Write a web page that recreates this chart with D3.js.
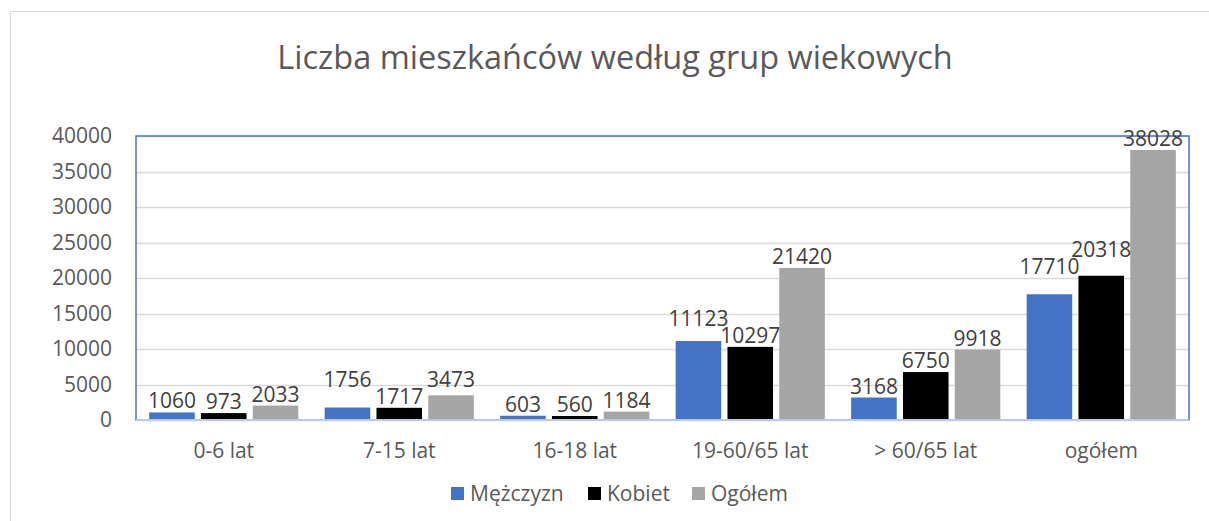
<!DOCTYPE html>
<html>
<head>
<meta charset="utf-8">
<script src="https://cdn.jsdelivr.net/npm/d3@7"></script>
<style>
  body { margin: 0; background: #fff; }
  svg text { font-family: "Open Sans", sans-serif; }
</style>
</head>
<body>
<script>
// data
var categories = ["0-6 lat", "7-15 lat", "16-18 lat", "19-60/65 lat", "> 60/65 lat", "ogółem"];
var seriesNames = ["Mężczyzn", "Kobiet", "Ogółem"];
var men = [1060, 1756, 603, 11123, 3168, 17710];
var women = [973, 1717, 560, 10297, 6750, 20318];
var total = [2033, 3473, 1184, 21420, 9918, 38028];
var yTicks = [0, 5000, 10000, 15000, 20000, 25000, 30000, 35000, 40000];
var colors = ["#4472C4", "#000000", "#A5A5A5"];

var width = 1209, height = 521;
var plot = {left: 136, right: 1189, top: 136, bottom: 420};
var fs = 21;

var svg = d3.select("body").append("svg")
	.attr("width", width)
	.attr("height", height);

svg.append("rect").attr("width", width).attr("height", height).attr("fill", "#fff");

// outer chart frame
svg.append("rect")
	.attr("x", 10.5).attr("y", 11.5)
	.attr("width", 1400).attr("height", 800)
	.attr("fill", "none").attr("stroke", "#D9D9D9");

// title
svg.append("text")
	.attr("x", 615).attr("y", 69)
	.attr("text-anchor", "middle")
	.attr("font-size", 32.5)
	.attr("fill", "#595959")
	.text("Liczba mieszkańców według grup wiekowych");

var x0 = d3.scaleBand().domain(categories).range([plot.left, plot.right])
	.paddingInner(0.15).paddingOuter(0.075);
var x1 = d3.scaleBand().domain(d3.range(seriesNames.length)).range([0, x0.bandwidth()])
	.paddingInner(0.12);
var y = d3.scaleLinear().domain([0, 40000]).range([plot.bottom, plot.top]);

// gridlines
svg.append("g").selectAll("line").data(yTicks).join("line")
	.attr("x1", plot.left).attr("x2", plot.right)
	.attr("y1", function(d) { return Math.round(y(d)) + 0.5; })
	.attr("y2", function(d) { return Math.round(y(d)) + 0.5; })
	.attr("stroke", "#D9D9D9").attr("stroke-width", 1.5);

// y axis labels
var yAxis = d3.axisLeft(y).tickValues(yTicks).tickSize(0).tickPadding(0).tickFormat(d3.format("d"));
var yg = svg.append("g").attr("transform", "translate(112,0)").call(yAxis);
yg.select(".domain").remove();
yg.selectAll("text").attr("font-size", fs).attr("fill", "#595959")
	.attr("font-family", "Open Sans, sans-serif");

// bars
var series = [men, women, total];
var barData = [];
categories.forEach(function(c, i) {
	series.forEach(function(s, j) {
		barData.push({cat: c, s: j, v: s[i]});
	});
});

svg.append("g").selectAll("rect").data(barData).join("rect")
	.attr("x", function(d) { return x0(d.cat) + x1(d.s); })
	.attr("y", function(d) { return y(d.v); })
	.attr("width", x1.bandwidth())
	.attr("height", function(d) { return y(0) - y(d.v); })
	.attr("fill", function(d) { return colors[d.s]; });

// plot area border
svg.append("rect")
	.attr("x", plot.left).attr("y", plot.top)
	.attr("width", plot.right - plot.left).attr("height", plot.bottom - plot.top)
	.attr("fill", "none").attr("stroke", "#4472C4").attr("stroke-width", 1.5);
svg.append("line")
	.attr("x1", plot.left).attr("x2", plot.right)
	.attr("y1", plot.bottom).attr("y2", plot.bottom)
	.attr("stroke", "#BCC9E2").attr("stroke-width", 2);

// data labels; small nudges so labels clear the next bar and each other
var labelG = svg.append("g");
categories.forEach(function(c) {
	var labels = barData.filter(function(d) { return d.cat === c; }).map(function(d) {
		var bx = x0(d.cat) + x1(d.s);
		var cx = bx + x1.bandwidth() / 2;
		var t = labelG.append("text")
			.attr("x", cx)
			.attr("text-anchor", "middle")
			.attr("font-size", fs)
			.attr("fill", "#404040")
			.text(d.v);
		var w = t.node().getComputedTextLength();
		return {t: t, left: cx - w / 2, right: cx + w / 2, barLeft: bx, top: y(d.v), base: y(d.v) - 4};
	});
	// clear the neighbouring bar when only a small lift is needed
	for (var k = 0; k < labels.length - 1; k++) {
		var l = labels[k], next = labels[k + 1];
		var need = l.base - (next.top - 2);
		if (l.right > next.barLeft && need > 0 && need < fs) l.base -= need;
	}
	for (var i = 1; i < labels.length; i++) {
		var a = labels[i - 1], b = labels[i];
		if (b.left - 8 < a.right && Math.abs(a.base - b.base) < fs * 0.9) {
			var upper = a.base <= b.base ? a : b;
			var lower = upper === a ? b : a;
			upper.base = lower.base - 17;
		}
	}
	labels.forEach(function(l) { l.t.attr("y", l.base); });
});

// x axis labels
var xAxis = d3.axisBottom(x0).tickSize(0).tickPadding(0);
var xg = svg.append("g").attr("transform", "translate(0,439)").call(xAxis);
xg.select(".domain").remove();
xg.selectAll("text").attr("font-size", fs).attr("fill", "#595959")
	.attr("font-family", "Open Sans, sans-serif").attr("dy", "0.9em");

// legend
var legendX = [451, 588, 692];
var lg = svg.append("g").selectAll("g").data(seriesNames).join("g")
	.attr("transform", function(d, i) { return "translate(" + legendX[i] + ",487)"; });
lg.append("rect").attr("width", 13).attr("height", 13)
	.attr("fill", function(d, i) { return colors[i]; });
lg.append("text").attr("x", 19).attr("y", 13.5)
	.attr("font-size", fs).attr("fill", "#595959")
	.text(function(d) { return d; });
</script>
</body>
</html>
